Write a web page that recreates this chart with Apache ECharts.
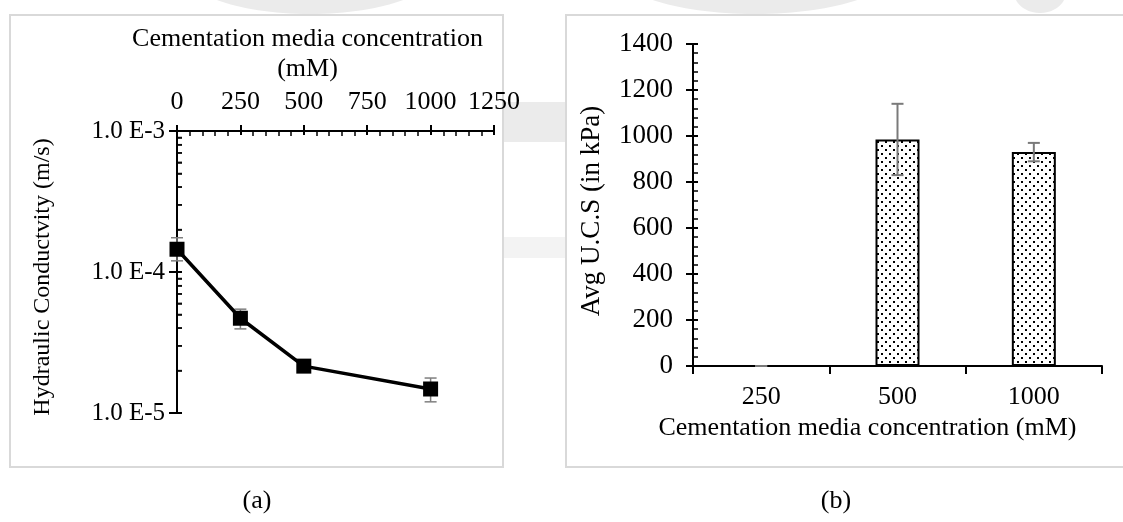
<!DOCTYPE html>
<html>
<head>
<meta charset="utf-8">
<script src="https://cdn.jsdelivr.net/npm/echarts@6/dist/echarts.min.js"></script>
<style>
  html, body { margin: 0; padding: 0; background: #ffffff; }
  #chart { width: 1123px; height: 522px; }
</style>
</head>
<body>
<div id="chart"></div>
<script>
// ---- (a) Hydraulic conductivity against cementation media concentration ----
const hcConc = [0, 250, 500, 1000];
const hcMean = [1.45e-4, 4.7e-5, 2.15e-5, 1.48e-5];
const hcLow  = [1.2e-4, 3.95e-5, 1.95e-5, 1.2e-5];
const hcHigh = [1.75e-4, 5.45e-5, 2.35e-5, 1.77e-5];
const hcExpLabels = { '-5': '1.0 E-5', '-4': '1.0 E-4', '-3': '1.0 E-3' };
const hcDecades = [-5, -4];          // decades that carry minor ticks 2..9
const hcMinorMultipliers = [2, 3, 4, 5, 6, 7, 8, 9];

// ---- (b) Average UCS per concentration ----
const ucsCategories = ['250', '500', '1000'];
const ucsMean = [0, 985, 930];
const ucsErr  = [0, 155, 40];

const FONT = '"Liberation Serif", "Times New Roman", serif';
const FS = 26;

// stipple fill for the bars
function makeDots() {
  const c = document.createElement('canvas');
  c.width = 8; c.height = 8;
  const g = c.getContext('2d');
  g.fillStyle = '#ffffff';
  g.fillRect(0, 0, 8, 8);
  g.fillStyle = '#000000';
  g.fillRect(1, 1, 2, 2);
  g.fillRect(5, 5, 2, 2);
  return c;
}

const chart = echarts.init(document.getElementById('chart'), null, { renderer: 'canvas' });

const textStyle = { fontFamily: FONT, fontSize: FS, color: '#000' };
const blackLine = { show: true, lineStyle: { color: '#000', width: 2 } };
const plain = v => String(v);

const minorTickValues = [];
hcDecades.forEach(e => hcMinorMultipliers.forEach(m => minorTickValues.push(m * Math.pow(10, e))));
// the same ticks in decade units, for a linear helper axis spanning -5..-3
const minorTickExponents = minorTickValues.map(v => Math.log10(v));

const haze = '#ebebeb';

const option = {
  backgroundColor: '#ffffff',
  animation: false,
  textStyle: { fontFamily: FONT },
  graphic: [
    // faint background logo fragments around the panels
    { type: 'ellipse', z: -20, shape: { cx: 310, cy: -28, rx: 125, ry: 42 }, style: { fill: haze } },
    { type: 'ellipse', z: -20, shape: { cx: 755, cy: -30, rx: 140, ry: 44 }, style: { fill: haze } },
    { type: 'ellipse', z: -20, shape: { cx: 1040, cy: -8, rx: 26, ry: 21 }, style: { fill: haze } },
    { type: 'rect', z: -20, shape: { x: 503, y: 102, width: 63, height: 40 }, style: { fill: haze } },
    { type: 'rect', z: -20, shape: { x: 503, y: 237, width: 63, height: 21 }, style: { fill: '#f3f3f3' } },
    // panel frames
    { type: 'rect', z: -10, shape: { x: 10, y: 15, width: 493, height: 452 },
      style: { fill: '#fff', stroke: '#d9d9d9', lineWidth: 2 } },
    { type: 'rect', z: -10, shape: { x: 566, y: 15, width: 570, height: 452 },
      style: { fill: '#fff', stroke: '#d9d9d9', lineWidth: 2 } },
    { type: 'text', x: 257, y: 501, style: { text: '(a)', font: FS + 'px ' + FONT, fill: '#000', textAlign: 'center', textVerticalAlign: 'middle' } },
    { type: 'text', x: 836, y: 501, style: { text: '(b)', font: FS + 'px ' + FONT, fill: '#000', textAlign: 'center', textVerticalAlign: 'middle' } }
  ],
  grid: [
    { left: 177, top: 131, width: 317, height: 282, outerBoundsMode: 'none', containLabel: false },
    { left: 693, top: 44, width: 409, height: 322, outerBoundsMode: 'none', containLabel: false }
  ],
  xAxis: [
    { // (a) concentration axis, drawn on top
      gridIndex: 0, type: 'value', position: 'top', min: 0, max: 1250, interval: 250,
      name: 'Cementation media concentration\n(mM)', nameLocation: 'middle', nameGap: 44,
      nameTextStyle: Object.assign({}, textStyle, { lineHeight: 30, padding: [0, 56, 0, 0] }),
      axisLine: blackLine, axisTick: { show: true, length: 6, lineStyle: { color: '#000', width: 2 } },
      axisLabel: Object.assign({ margin: 16, formatter: plain }, textStyle), splitLine: { show: false }
    },
    { // inner half of the ticks
      gridIndex: 0, type: 'value', position: 'top', min: 0, max: 1250, interval: 250,
      axisLine: { show: false }, axisLabel: { show: false }, splitLine: { show: false },
      axisTick: { show: true, inside: true, length: 4, lineStyle: { color: '#000', width: 2 } },
      minorTick: { show: true, splitNumber: 5, length: 5, lineStyle: { color: '#000', width: 1.5 } }
    },
    { // (b) categories
      gridIndex: 1, type: 'category', data: ucsCategories, boundaryGap: true,
      name: 'Cementation media concentration (mM)', nameLocation: 'middle', nameGap: 47,
      nameTextStyle: Object.assign({}, textStyle, { padding: [0, 60, 0, 0] }),
      axisLine: blackLine, axisTick: { show: true, length: 8, alignWithLabel: false, lineStyle: { color: '#000', width: 2 } },
      axisLabel: Object.assign({ margin: 18 }, textStyle)
    }
  ],
  yAxis: [
    { // (a) log axis
      gridIndex: 0, type: 'log', logBase: 10, min: 1e-5, max: 1e-3, position: 'left',
      name: 'Hydraulic Conductvity (m/s)', nameLocation: 'middle', nameGap: 122,
      nameTextStyle: Object.assign({}, textStyle, { fontSize: 24, padding: [0, 10, 0, 0] }),
      axisLine: blackLine, axisTick: { show: true, length: 8, lineStyle: { color: '#000', width: 2 } },
      axisLabel: Object.assign({}, textStyle, { margin: 12, fontSize: 25,
        formatter: v => hcExpLabels[String(Math.round(Math.log10(v)))] || '' }),
      splitLine: { show: false }
    },
    { // inner half of the decade ticks
      gridIndex: 0, type: 'log', logBase: 10, min: 1e-5, max: 1e-3, position: 'left',
      axisLine: { show: false }, axisLabel: { show: false }, splitLine: { show: false },
      axisTick: { show: true, inside: true, length: 5, lineStyle: { color: '#000', width: 2 } }
    },
    { // (b) UCS axis
      gridIndex: 1, type: 'value', min: 0, max: 1400, interval: 200, position: 'left',
      name: 'Avg U.C.S (in kPa)', nameLocation: 'middle', nameGap: 88,
      nameTextStyle: Object.assign({}, textStyle, { fontSize: 27, padding: [0, 12, 0, 0] }),
      axisLine: blackLine, axisTick: { show: true, length: 7, lineStyle: { color: '#000', width: 2 } },
      axisLabel: Object.assign({}, textStyle, { margin: 20, fontSize: 27, formatter: plain }), splitLine: { show: false }
    },
    {
      gridIndex: 1, type: 'value', min: 0, max: 1400, interval: 200, position: 'left',
      axisLine: { show: false }, axisLabel: { show: false }, splitLine: { show: false },
      axisTick: { show: true, inside: true, length: 5, lineStyle: { color: '#000', width: 2 } },
      minorTick: { show: true, splitNumber: 5, length: 5, lineStyle: { color: '#000', width: 1.5 } }
    },
    { // (a) log-spaced minor ticks: helper axis in decade units, same span as the log axis
      gridIndex: 0, type: 'value', min: -5, max: -3, position: 'left',
      axisLine: { show: false }, axisLabel: { show: false }, splitLine: { show: false },
      axisTick: { show: true, inside: true, length: 5, customValues: minorTickExponents,
                  lineStyle: { color: '#000', width: 1.5 } }
    }
  ],
  series: [
    { // same minor ticks as tiny marks on the log scale (drawn under the helper axis ticks)
      type: 'scatter', xAxisIndex: 0, yAxisIndex: 0, clip: false, silent: true, z: 10,
      data: minorTickValues.map(v => [0, v]),
      symbol: 'rect', symbolSize: [5, 1.5], symbolOffset: [2.5, 0],
      itemStyle: { color: '#000' }
    },
    { // (a) error bars
      type: 'custom', xAxisIndex: 0, yAxisIndex: 0, silent: true, z: 2,
      data: hcConc.map((c, i) => [c, hcLow[i], hcHigh[i]]), encode: { x: 0, y: [1, 2] },
      renderItem: (params, api) => {
        const lo = api.coord([api.value(0), api.value(1)]);
        const hi = api.coord([api.value(0), api.value(2)]);
        const st = { stroke: '#7f7f7f', lineWidth: 1.5 };
        return { type: 'group', children: [
          { type: 'line', shape: { x1: lo[0], y1: lo[1], x2: hi[0], y2: hi[1] }, style: st },
          { type: 'line', shape: { x1: lo[0] - 6, y1: lo[1], x2: lo[0] + 6, y2: lo[1] }, style: st },
          { type: 'line', shape: { x1: hi[0] - 6, y1: hi[1], x2: hi[0] + 6, y2: hi[1] }, style: st }
        ] };
      }
    },
    { // (a) mean conductivity
      type: 'line', xAxisIndex: 0, yAxisIndex: 0, z: 5,
      data: hcConc.map((c, i) => [c, hcMean[i]]),
      symbol: 'rect', symbolSize: 15, showAllSymbol: true,
      itemStyle: { color: '#000' }, lineStyle: { color: '#000', width: 3.5 }
    },
    { // (b) bars
      type: 'bar', xAxisIndex: 2, yAxisIndex: 2, barWidth: 44, z: 2,
      data: ucsMean,
      itemStyle: { color: { image: makeDots(), repeat: 'repeat' }, borderColor: '#000', borderWidth: 2 }
    },
    { // (b) error bars
      type: 'custom', xAxisIndex: 2, yAxisIndex: 2, silent: true, z: 6,
      data: ucsCategories.map((c, i) => [i, ucsMean[i] - ucsErr[i], ucsMean[i] + ucsErr[i]]),
      encode: { x: 0, y: [1, 2] },
      renderItem: (params, api) => {
        const lo = api.coord([api.value(0), api.value(1)]);
        const hi = api.coord([api.value(0), api.value(2)]);
        const st = { stroke: '#7a7a7a', lineWidth: 2 };
        return { type: 'group', children: [
          { type: 'line', shape: { x1: lo[0], y1: lo[1], x2: hi[0], y2: hi[1] }, style: st },
          { type: 'line', shape: { x1: lo[0] - 6, y1: lo[1], x2: lo[0] + 6, y2: lo[1] }, style: st },
          { type: 'line', shape: { x1: hi[0] - 6, y1: hi[1], x2: hi[0] + 6, y2: hi[1] }, style: st }
        ] };
      }
    }
  ]
};

chart.setOption(option);
</script>
</body>
</html>
